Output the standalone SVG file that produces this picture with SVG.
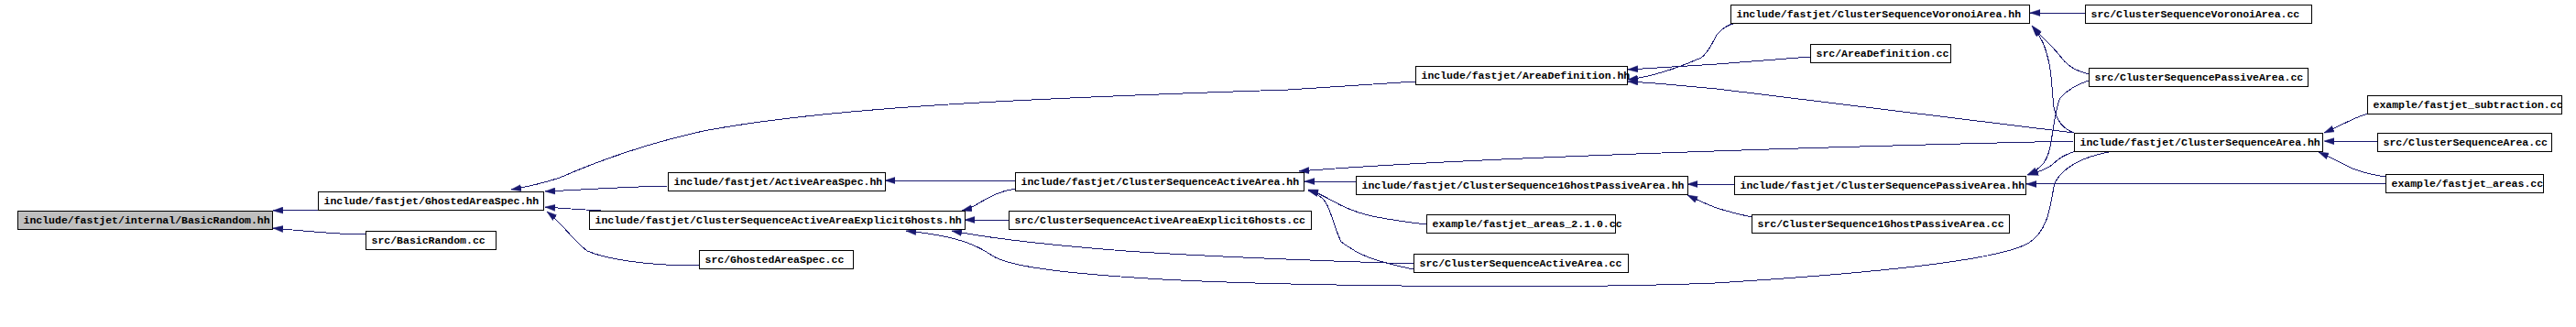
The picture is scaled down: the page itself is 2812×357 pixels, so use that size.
<svg xmlns="http://www.w3.org/2000/svg" width="2812" height="357" viewBox="0 0 2812 357">
<style>
.n rect{fill:#ffffff;stroke:#000000;stroke-width:1;shape-rendering:crispEdges}
.n.root rect{fill:#bfbfbf}
.n text{font-family:"Liberation Mono","DejaVu Sans Mono",monospace;font-weight:bold;font-size:11.5px;fill:#000000}
.e path{fill:none;stroke:#191970;stroke-width:1;marker-end:url(#ah);shape-rendering:crispEdges}
</style>
<defs>
<marker id="ah" markerUnits="userSpaceOnUse" markerWidth="12" markerHeight="8" refX="11" refY="4" orient="auto">
<path d="M0,0.5 L11,4 L0,7.5 z" fill="#191970" stroke="#191970" stroke-width="0.5"/>
</marker>
</defs>
<rect x="0" y="0" width="2812" height="357" fill="#ffffff"/>
<g id="edges" class="e">
<path d="M347,229 L327,229 L298,230"/>
<path d="M399,256 C370,256 340,253 298,249"/>
<path d="M1545,89 L1406,98 C1100,108 900,118 768,143 C700,158 650,177 611,194 C590,201 575,204 558,207"/>
<path d="M729,203 C680,204 640,207 595,209"/>
<path d="M656,230 C640,229 620,228 595,226"/>
<path d="M763,290 C700,290 660,282 641,274 C625,262 615,245 597,231"/>
<path d="M1108,197 L966,197"/>
<path d="M1108,206 C1090,209 1080,215 1063,225 C1058,227 1054,229 1050,230"/>
<path d="M1101,240 L1053,240"/>
<path d="M1544,288 C1450,285 1300,279 1229,274 C1150,268 1080,260 1039,252"/>
<path d="M2302,166 C2270,172 2250,185 2243,200 C2238,220 2238,250 2215,265 C2190,280 2100,295 1872,309 C1700,316 1400,312 1269,305 C1150,298 1100,290 1083,279 C1070,270 1050,258 989,252"/>
<path d="M1976,62 L1874,70 L1777,76"/>
<path d="M1895,25 C1885,27 1878,33 1874,38 C1868,50 1862,60 1857,63 C1830,75 1800,84 1777,87"/>
<path d="M2264,145 L1874,97 C1830,93 1800,90 1777,89"/>
<path d="M2264,154 C2000,160 1600,172 1418,187"/>
<path d="M1480,198 L1424,198"/>
<path d="M1557,245 C1500,238 1480,234 1454,219 C1445,214 1440,211 1428,207"/>
<path d="M1543,294 C1500,285 1484,279 1464,264 C1455,245 1452,225 1445,218 C1440,213 1435,210 1428,208"/>
<path d="M1893,201 L1842,201"/>
<path d="M1912,237 C1890,232 1880,229 1874,227 C1860,222 1850,217 1842,213"/>
<path d="M2276,14 L2216,14"/>
<path d="M2280,81 C2262,76 2255,70 2248,60 C2238,48 2228,40 2218,28"/>
<path d="M2264,145 C2250,140 2245,130 2242,117 C2240,100 2240,85 2237,70 C2233,50 2228,40 2219,29"/>
<path d="M2280,88 C2265,93 2255,100 2249,107 C2243,120 2242,140 2238,160 C2235,175 2230,183 2213,191"/>
<path d="M2266,165 C2255,168 2245,175 2240,180 C2235,184 2228,187 2214,191"/>
<path d="M2604,200 L2212,201"/>
<path d="M2585,124 C2570,128 2560,135 2537,145"/>
<path d="M2595,155 L2537,154"/>
<path d="M2604,193 C2585,190 2570,186 2560,180 C2550,175 2540,170 2531,166"/>
</g>
<g id="n_basicrandom_hh" class="n root"><rect x="19.5" y="230.5" width="278" height="20"/><text x="25.5" y="244">include/fastjet/internal/BasicRandom.hh</text></g>
<g id="n_ghosted_hh" class="n"><rect x="347.5" y="209.5" width="246" height="20"/><text x="353.5" y="223">include/fastjet/GhostedAreaSpec.hh</text></g>
<g id="n_basicrandom_cc" class="n"><rect x="399.5" y="252.5" width="142" height="20"/><text x="405.5" y="266">src/BasicRandom.cc</text></g>
<g id="n_activeareaspec_hh" class="n"><rect x="729.5" y="188.5" width="237" height="20"/><text x="735.5" y="202">include/fastjet/ActiveAreaSpec.hh</text></g>
<g id="n_explicit_hh" class="n"><rect x="643.5" y="230.5" width="410" height="20"/><text x="649.5" y="244">include/fastjet/ClusterSequenceActiveAreaExplicitGhosts.hh</text></g>
<g id="n_ghosted_cc" class="n"><rect x="763.5" y="273.5" width="168" height="20"/><text x="769.5" y="287">src/GhostedAreaSpec.cc</text></g>
<g id="n_areadef_hh" class="n"><rect x="1545.5" y="72.5" width="231" height="20"/><text x="1551.5" y="86">include/fastjet/AreaDefinition.hh</text></g>
<g id="n_csaa_hh" class="n"><rect x="1108.5" y="188.5" width="315" height="20"/><text x="1114.5" y="202">include/fastjet/ClusterSequenceActiveArea.hh</text></g>
<g id="n_explicit_cc" class="n"><rect x="1101.5" y="230.5" width="330" height="20"/><text x="1107.5" y="244">src/ClusterSequenceActiveAreaExplicitGhosts.cc</text></g>
<g id="n_1ghost_hh" class="n"><rect x="1480.5" y="192.5" width="362" height="20"/><text x="1486.5" y="206">include/fastjet/ClusterSequence1GhostPassiveArea.hh</text></g>
<g id="n_areas210_cc" class="n"><rect x="1557.5" y="234.5" width="206" height="20"/><text x="1563.5" y="248">example/fastjet_areas_2.1.0.cc</text></g>
<g id="n_csaa_cc" class="n"><rect x="1543.5" y="277.5" width="234" height="20"/><text x="1549.5" y="291">src/ClusterSequenceActiveArea.cc</text></g>
<g id="n_voronoi_hh" class="n"><rect x="1889.5" y="5.5" width="326" height="20"/><text x="1895.5" y="19">include/fastjet/ClusterSequenceVoronoiArea.hh</text></g>
<g id="n_areadef_cc" class="n"><rect x="1976.5" y="48.5" width="153" height="20"/><text x="1982.5" y="62">src/AreaDefinition.cc</text></g>
<g id="n_passive_hh" class="n"><rect x="1893.5" y="192.5" width="318" height="20"/><text x="1899.5" y="206">include/fastjet/ClusterSequencePassiveArea.hh</text></g>
<g id="n_1ghost_cc" class="n"><rect x="1912.5" y="234.5" width="281" height="20"/><text x="1918.5" y="248">src/ClusterSequence1GhostPassiveArea.cc</text></g>
<g id="n_voronoi_cc" class="n"><rect x="2276.5" y="5.5" width="247" height="20"/><text x="2282.5" y="19">src/ClusterSequenceVoronoiArea.cc</text></g>
<g id="n_passive_cc" class="n"><rect x="2280.5" y="74.5" width="239" height="20"/><text x="2286.5" y="88">src/ClusterSequencePassiveArea.cc</text></g>
<g id="n_csa_hh" class="n"><rect x="2264.5" y="145.5" width="271" height="20"/><text x="2270.5" y="159">include/fastjet/ClusterSequenceArea.hh</text></g>
<g id="n_subtraction_cc" class="n"><rect x="2584.5" y="104.5" width="212" height="20"/><text x="2590.5" y="118">example/fastjet_subtraction.cc</text></g>
<g id="n_csa_cc" class="n"><rect x="2595.5" y="145.5" width="190" height="20"/><text x="2601.5" y="159">src/ClusterSequenceArea.cc</text></g>
<g id="n_areas_cc" class="n"><rect x="2604.5" y="190.5" width="172" height="20"/><text x="2610.5" y="204">example/fastjet_areas.cc</text></g>
</svg>
